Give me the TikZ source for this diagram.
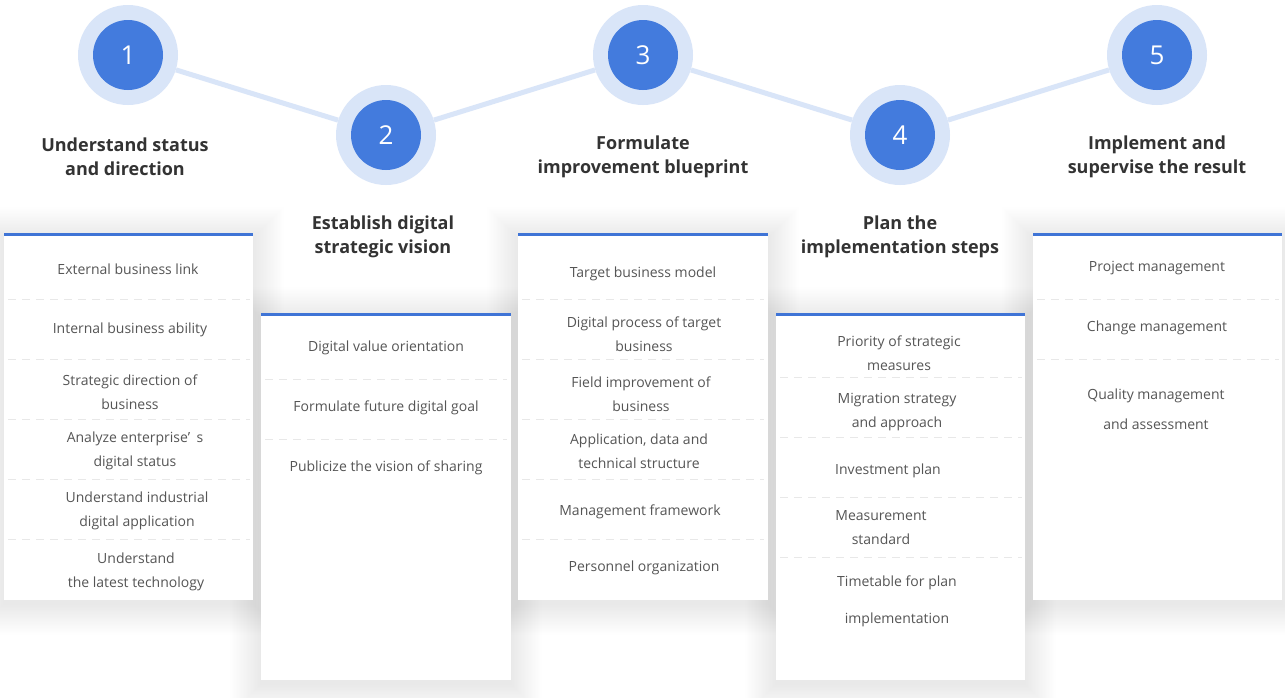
\documentclass[tikz,border=0pt]{standalone}
\usepackage{fontspec}
\setmainfont{Open Sans}
\definecolor{ring}{HTML}{D9E5F8}
\definecolor{disc}{HTML}{437BDD}
\definecolor{bar}{HTML}{3F74D6}
\definecolor{ttl}{HTML}{333333}
\definecolor{itm}{HTML}{555555}
\definecolor{sep}{HTML}{E8E8E8}
\newcommand\cardbox[4]{%
  \foreach \i in {1,...,22}{\fill[black,opacity=0.0026] (#1-1.4*\i,#2-1.4*\i+4) rectangle (#3+1.4*\i,#4+1.4*\i+4);}}
\newcommand\cardfill[4]{\fill[white] (#1,#2) rectangle (#3,#4);}
\tikzset{
  ringnode/.style={circle, fill=ring, minimum size=100pt, inner sep=0pt},
  discnode/.style={circle, fill=disc, minimum size=70pt, inner sep=0pt, text=white, font=\fontsize{26}{26}\selectfont},
  titlenode/.style={align=center, text=ttl, font=\bfseries\fontsize{18}{24}\selectfont},
  itemnode/.style={align=center, text=itm, font=\fontsize{14}{24}\selectfont},
  sepline/.style={draw=sep, dash pattern=on 8pt off 6pt, line width=0.8pt},
  barline/.style={draw=bar, line width=3pt},
  link/.style={draw=ring, line width=5pt},
}
\begin{document}
\begin{tikzpicture}[x=1pt,y=-1pt]
\useasboundingbox (0,0) rectangle (1285,697);
\fill[white] (0,0) rectangle (1285,697);
% cards: shadows first, then white faces
\cardbox{4}{234}{253}{600}
\cardbox{261}{314}{511}{680}
\cardbox{518}{234}{768}{600}
\cardbox{776}{314}{1025}{680}
\cardbox{1033}{234}{1282}{600}
\cardfill{4}{234}{253}{600}
\cardfill{261}{314}{511}{680}
\cardfill{518}{234}{768}{600}
\cardfill{776}{314}{1025}{680}
\cardfill{1033}{234}{1282}{600}
% rings and discs
\node[ringnode] (r1) at (128,55) {};
\node[ringnode] (r2) at (386,135) {};
\node[ringnode] (r3) at (643,55) {};
\node[ringnode] (r4) at (900,135) {};
\node[ringnode] (r5) at (1157,55) {};
\draw[link] (r1) -- (r2);
\draw[link] (r2) -- (r3);
\draw[link] (r3) -- (r4);
\draw[link] (r4) -- (r5);
\node[discnode] (d1) at (128,55) {1};
\node[discnode] (d2) at (386,135) {2};
\node[discnode] (d3) at (643,55) {3};
\node[discnode] (d4) at (900,135) {4};
\node[discnode] (d5) at (1157,55) {5};
% titles
\node[titlenode] (t1) at (125,157) {Understand status\\and direction};
\node[titlenode] (t2) at (383,237) {Establish digital\\strategic vision};
\node[titlenode] (t3) at (643,157) {Formulate\\improvement blueprint};
\node[titlenode] (t4) at (900,237) {Plan the\\implementation steps};
\node[titlenode] (t5) at (1157,157) {Implement and\\supervise the result};
% bars
\coordinate (b1a) at (4,234); \coordinate (b1b) at (253,234);
\coordinate (b2a) at (261,314); \coordinate (b2b) at (511,314);
\coordinate (b3a) at (518,234); \coordinate (b3b) at (768,234);
\coordinate (b4a) at (776,314); \coordinate (b4b) at (1025,314);
\coordinate (b5a) at (1033,234); \coordinate (b5b) at (1282,234);
\draw[barline] (b1a) -- (b1b);
\draw[barline] (b2a) -- (b2b);
\draw[barline] (b3a) -- (b3b);
\draw[barline] (b4a) -- (b4b);
\draw[barline] (b5a) -- (b5b);
% separators
\foreach \y [count=\k] in {299,359,419,479,539}{
  \coordinate (s1a\k) at (8,\y); \coordinate (s1b\k) at (250,\y);
  \draw[sepline] (s1a\k) -- (s1b\k);
  \coordinate (s3a\k) at (522,\y); \coordinate (s3b\k) at (764,\y);
  \draw[sepline] (s3a\k) -- (s3b\k);}
\foreach \y [count=\k] in {379,439}{
  \coordinate (s2a\k) at (265,\y); \coordinate (s2b\k) at (507,\y);
  \draw[sepline] (s2a\k) -- (s2b\k);}
\foreach \y [count=\k] in {377,437,497,557}{
  \coordinate (s4a\k) at (780,\y); \coordinate (s4b\k) at (1022,\y);
  \draw[sepline] (s4a\k) -- (s4b\k);}
\foreach \y [count=\k] in {299,359}{
  \coordinate (s5a\k) at (1037,\y); \coordinate (s5b\k) at (1279,\y);
  \draw[sepline] (s5a\k) -- (s5b\k);}
% column 1 items
\node[itemnode] (i11) at (128,269) {External business link};
\node[itemnode] (i12) at (130,330) {Internal business ability};
\node[itemnode] (i13) at (130,392) {Strategic direction of\\business};
\node[itemnode] (i14) at (135,451) {Analyze enterprise’\hspace{0.45em}s\\digital status};
\node[itemnode] (i15) at (137,511) {Understand industrial\\digital application};
\node[itemnode] (i16) at (136,572) {Understand\\the latest technology};
% column 2 items
\node[itemnode] (i21) at (386,348) {Digital value orientation};
\node[itemnode] (i22) at (386,408) {Formulate future digital goal};
\node[itemnode] (i23) at (386,468) {Publicize the vision of sharing};
% column 3 items
\node[itemnode] (i31) at (643,274) {Target business model};
\node[itemnode] (i32) at (644,334) {Digital process of target\\business};
\node[itemnode] (i33) at (641,394) {Field improvement of\\business};
\node[itemnode] (i34) at (639,451) {Application, data and\\technical structure};
\node[itemnode] (i35) at (640,512) {Management framework};
\node[itemnode] (i36) at (644,568) {Personnel organization};
% column 4 items
\node[itemnode] (i41) at (899,353) {Priority of strategic\\measures};
\node[itemnode] (i42) at (897,412) {Migration strategy\\and approach};
\node[itemnode] (i43) at (888,471) {Investment plan};
\node[itemnode] (i44) at (881,528) {Measurement\\standard};
\node[itemnode, font=\fontsize{14}{37}\selectfont] (i45) at (897,601.5) {Timetable for plan\\implementation};
% column 5 items
\node[itemnode] (i51) at (1157,268) {Project management};
\node[itemnode] (i52) at (1157,328) {Change management};
\node[itemnode, font=\fontsize{14}{30}\selectfont] (i53) at (1156,409) {Quality management\\and assessment};
\end{tikzpicture}
\end{document}
